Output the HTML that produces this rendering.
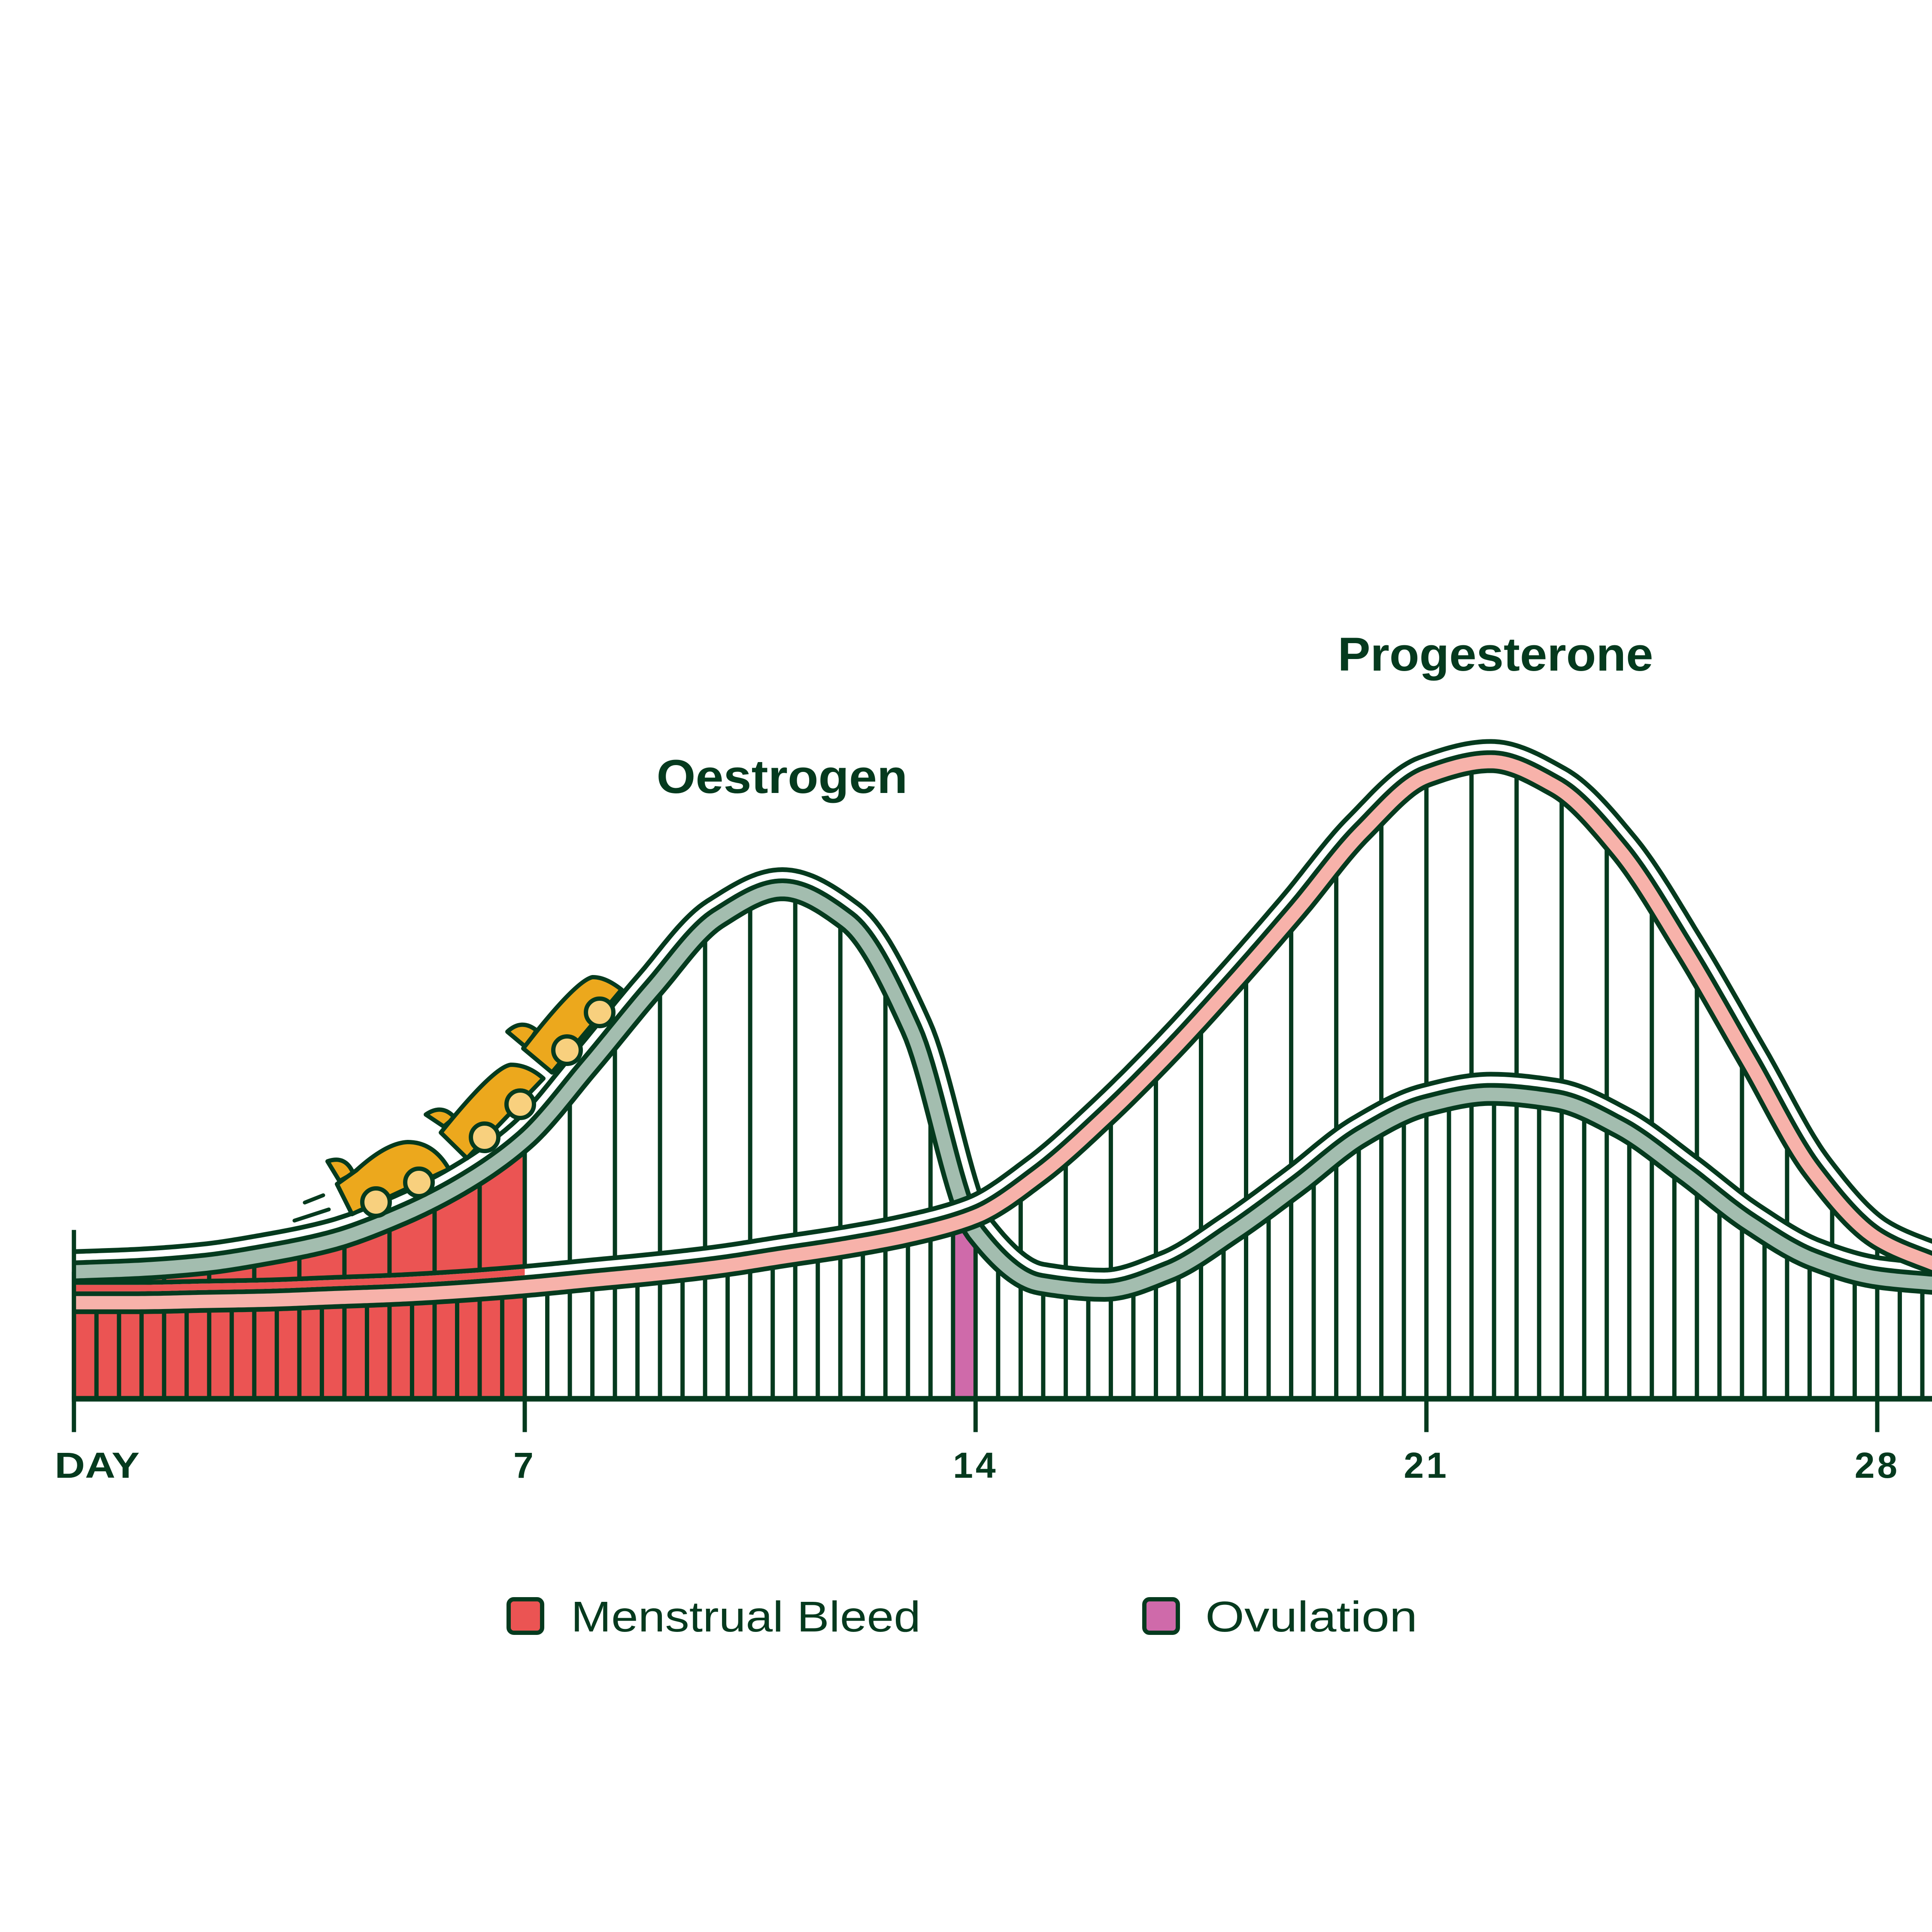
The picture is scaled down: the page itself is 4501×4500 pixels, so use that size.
<!DOCTYPE html>
<html><head><meta charset="utf-8"><style>
html,body{margin:0;padding:0;background:#fff;}
svg{display:block;}
text{font-family:"Liberation Sans",sans-serif;fill:#053a1e;}
</style></head><body>
<svg id="chart" width="4501" height="4500" viewBox="0 0 4501 4500" xmlns="http://www.w3.org/2000/svg">
<g id="fills"></g>
<g id="supports"></g>
<g id="tracks"></g>
<g id="cars"></g>
<g id="axis"></g>
<text x="1822" y="1847" font-size="110" font-weight="bold" text-anchor="middle" textLength="585" lengthAdjust="spacingAndGlyphs">Oestrogen</text>
<text x="3484" y="1562" font-size="110" font-weight="bold" text-anchor="middle" textLength="735" lengthAdjust="spacingAndGlyphs">Progesterone</text>
<g>
<rect x="1185" y="3725" width="78" height="78" rx="12" fill="#eb5453" stroke="#053a1e" stroke-width="10"/>
<text x="1330" y="3800" font-size="100" textLength="815" lengthAdjust="spacingAndGlyphs">Menstrual Bleed</text>
<rect x="2666" y="3725" width="78" height="78" rx="12" fill="#cf6aaa" stroke="#053a1e" stroke-width="10"/>
<text x="2808" y="3800" font-size="100" textLength="494" lengthAdjust="spacingAndGlyphs">Ovulation</text>
</g>
</svg>
<script>
const days = [0,1,2,3,4,5,6,7,8,9,10,11,12,13,14,15,16,17,18,19,20,21,22,23,24,25,26,27,28,29];
const oestrogen = [103,105,109,117,128,147,173,210,270,333,390,413,388,300,135,93,88,103,135,173,213,238,247,242,220,183,143,113,98,93];
const progesterone = [78,78,79,80,82,84,87,91,96,101,107,115,123,133,148,182,228,280,337,397,460,505,517,497,445,365,275,185,130,107];
const tickDays = [7,14,21,28];
const tickLabels = ["7","14","21","28"];
const bleedEnd = 7;
const ovulationStart = 13.65;
const ovulationEnd = 14;

const S = 4501/1568;
const NS = "http://www.w3.org/2000/svg";
const x0 = 60*S, dayW = 52.27*S, baseY = 1135*S;
function xScale(d){ return x0 + d*dayW; }
function yScale(v){ return baseY - v*S; }

function el(tag, attrs, parent){
  const e = document.createElementNS(NS, tag);
  for (const k in attrs) e.setAttribute(k, attrs[k]);
  parent.appendChild(e);
  return e;
}

// monotone cubic (Fritsch-Carlson) sampling
function sample(vals){
  const n = vals.length;
  const d = [];
  for (let i=0;i<n-1;i++) d.push(vals[i+1]-vals[i]);
  const m = new Array(n);
  m[0]=d[0]; m[n-1]=d[n-2];
  for (let i=1;i<n-1;i++){
    if (d[i-1]*d[i]<=0) m[i]=0;
    else m[i] = 2/(1/d[i-1]+1/d[i]);
  }
  const pts=[];
  for (let i=0;i<n-1;i++){
    for (let t=0;t<1;t+=0.05){
      const h00=2*t*t*t-3*t*t+1, h10=t*t*t-2*t*t+t, h01=-2*t*t*t+3*t*t, h11=t*t*t-t*t;
      const v = h00*vals[i]+h10*m[i]+h01*vals[i+1]+h11*m[i+1];
      pts.push([xScale(days[i]+t*(days[i+1]-days[i])), yScale(v)]);
    }
  }
  pts.push([xScale(days[n-1]), yScale(vals[n-1])]);
  return pts;
}
function offset(pts, d){
  return pts.map((p,i)=>{
    const a = pts[Math.max(0,i-1)], b = pts[Math.min(pts.length-1,i+1)];
    let dx=b[0]-a[0], dy=b[1]-a[1]; const L=Math.hypot(dx,dy)||1;
    let nx = dy/L, ny = -dx/L;
    if (ny>0){nx=-nx;ny=-ny;}
    return [p[0]+nx*d, p[1]+ny*d];
  });
}
function pathD(pts){ return "M"+pts.map(p=>p[0].toFixed(1)+","+p[1].toFixed(1)).join("L"); }
function yAt(pts, x){
  for (let i=0;i<pts.length-1;i++){
    if (pts[i][0]<=x && pts[i+1][0]>=x){
      const t=(x-pts[i][0])/((pts[i+1][0]-pts[i][0])||1);
      return pts[i][1]+t*(pts[i+1][1]-pts[i][1]);
    }
  }
  return pts[pts.length-1][1];
}

const oPts = sample(oestrogen), pPts = sample(progesterone);
const svg = document.getElementById('chart');
const DK = "#053a1e";

const fills = document.getElementById('fills');
{
  const xe = xScale(bleedEnd);
  const sub = oPts.filter(p=>p[0]<=xe);
  const pts = sub.concat([[xe,yAt(oPts,xe)],[xe,baseY],[x0,baseY]]);
  const r = el('path',{d:pathD(pts)+"Z", fill:"#eb5453"}, fills);
  
  
  const xa = xScale(ovulationStart), xb = xScale(ovulationEnd);
  const ov = el('path',{d:`M${xa},${baseY}L${xa},${yAt(pPts,xa)}L${xb},${yAt(pPts,xb)}L${xb},${baseY}Z`, fill:"#cf6aaa"}, fills);
  
  
}

const sup = document.getElementById('supports');
const step = dayW*7/20;
for (let i=0; x0+i*step<=4510; i++){
  const x = x0+i*step;
  const yo = yAt(oPts,x), yp = yAt(pPts,x);
  const top = (i%2===0) ? Math.min(yo,yp) : Math.max(yo,yp);
  const ln = el('line',{x1:x,y1:baseY,x2:x,y2:top,stroke:DK,"stroke-width":10}, sup);
  
  
}

const tr = document.getElementById('tracks');
function drawTrack(pts, color, name, redRail){
  const g = el('g',{}, tr);
  
  
  const rail = offset(pts, 34);
  el('path',{d:pathD(rail),fill:"none",stroke:DK,"stroke-width":37,"stroke-linejoin":"round"}, g);
  el('path',{d:pathD(pts),fill:"none",stroke:DK,"stroke-width":53,"stroke-linejoin":"round"}, g);
  el('path',{d:pathD(pts),fill:"none",stroke:color,"stroke-width":31,"stroke-linejoin":"round"}, g);
  el('path',{d:pathD(rail),fill:"none",stroke:"#fff","stroke-width":15,"stroke-linejoin":"round"}, g);
  if (redRail){
    el('path',{d:pathD(rail),fill:"none",stroke:"#eb5453","stroke-width":15,"clip-path":"url(#bleedClip)"}, g);
  }
}
const defs = el('defs',{}, svg);
const cp = el('clipPath',{id:"bleedClip"}, defs);
el('rect',{x:0,y:0,width:xScale(bleedEnd),height:4500}, cp);
drawTrack(oPts, "#a3bdaf", "oestrogen-track", false);
drawTrack(pPts, "#f7b2aa", "progesterone-track", true);

const ax = document.getElementById('axis');
{
  const b = el('line',{x1:x0-5,y1:baseY,x2:4501,y2:baseY,stroke:DK,"stroke-width":13}, ax);
  
  
  const l = el('line',{x1:x0,y1:998*S,x2:x0,y2:1162*S,stroke:DK,"stroke-width":10}, ax);
  
  
  const dl = el('text',{x:x0-45,y:1199*S,"font-size":84,"font-weight":"bold",textLength:198,lengthAdjust:"spacingAndGlyphs"}, ax);
  dl.textContent = "DAY";
  
  
  tickDays.forEach((d,i)=>{
    const x = xScale(d);
    const t = el('line',{x1:x,y1:baseY,x2:x,y2:1162*S,stroke:DK,"stroke-width":10}, ax);
    
    
    const tx = el('text',{x:x,y:1199*S,"font-size":84,"font-weight":"bold","text-anchor":"middle","letter-spacing":"6"}, ax);
    tx.textContent = tickLabels[i];
    
    
  });
}

const cars = document.getElementById('cars');
const carDefs = [
  {body:"M785,2758 L820,2828 L1046,2723 Q1010,2660 950,2660 Q900,2662 830,2726 Z", fin:"M763,2705 L791,2751 L823,2733 Q805,2690 763,2705 Z", seats:[[876,2800],[976,2754]]},
  {body:"M1027,2638 L1088,2698 L1266,2512 Q1230,2480 1190,2480 Q1150,2485 1027,2638 Z", fin:"M992,2596 L1034,2624 L1059,2603 Q1030,2570 992,2596 Z", seats:[[1129,2649],[1212,2572]]},
  {body:"M1219,2442 L1286,2498 L1448,2305 Q1410,2275 1380,2276 Q1340,2285 1219,2442 Z", fin:"M1182,2403 L1225,2439 L1250,2400 Q1215,2372 1182,2403 Z", seats:[[1321,2446],[1397,2358]]}
];
carDefs.forEach(c=>{
  const g = el('g',{}, cars);
  
  
  el('path',{d:c.fin,fill:"#eca81d",stroke:DK,"stroke-width":10,"stroke-linejoin":"round"}, g);
  el('path',{d:c.body,fill:"#eca81d",stroke:DK,"stroke-width":10,"stroke-linejoin":"round"}, g);
  c.seats.forEach(s=>{
    el('circle',{cx:s[0],cy:s[1],r:32,fill:"#f8d07e",stroke:DK,"stroke-width":10}, g);
  });
});
el('line',{x1:710,y1:2801,x2:753,y2:2784,stroke:DK,"stroke-width":9,"stroke-linecap":"round"}, cars);
el('line',{x1:686,y1:2843,x2:766,y2:2817,stroke:DK,"stroke-width":9,"stroke-linecap":"round"}, cars);
</script>
</body></html>
